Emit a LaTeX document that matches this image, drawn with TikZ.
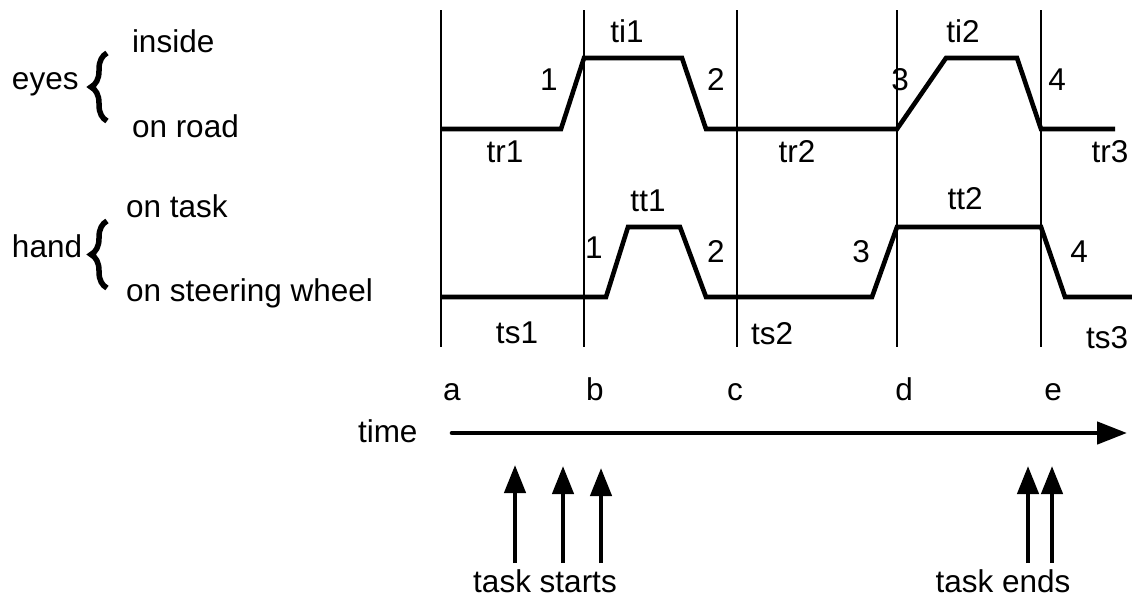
\documentclass[tikz,border=0pt]{standalone}
\usepackage{fontspec}
\setmainfont{Liberation Sans}
\usetikzlibrary{arrows.meta,decorations.pathreplacing}
\begin{document}
\begin{tikzpicture}[x=1pt,y=-1pt,
  every node/.style={inner sep=0pt,outer sep=0pt,font=\fontsize{31.5}{36}\selectfont},
  lbl/.style={anchor=base},
  side/.style={anchor=base west},
  grid/.style={line width=2.2pt},
  signal/.style={line width=4.6pt,line join=miter},
  curly/.style={line width=5.5pt,decorate,decoration={brace,amplitude=16pt,aspect=0.5}},
  cue/.style={line width=4.4pt,-{Triangle[length=28pt,width=21pt]}},
  axis/.style={line width=4.6pt,line cap=round,-{Triangle[length=30pt,width=22pt]}}]
\useasboundingbox (0,0) rectangle (1132,597);

% phase boundaries
\foreach \n/\x in {a/441,b/584,c/737,d/897,e/1041}{
  \coordinate (\n top) at (\x,10);
  \coordinate (\n bot) at (\x,347);
  \draw[grid] (\n top) -- (\n bot);
}

% row captions
\node[side] (eyes) at (12,89) {eyes};
\node[side] (inside) at (132,52) {inside};
\node[side] (onroad) at (132,137) {on road};
\node[side] (hand) at (12,257) {hand};
\node[side] (ontask) at (126,217) {on task};
\node[side] (onwheel) at (126,301) {on steering wheel};
\coordinate (eb1) at (107,121);
\coordinate (eb2) at (107,53);
\coordinate (hb1) at (107,288);
\coordinate (hb2) at (107,221);
\draw[curly] (eb1) -- (eb2);
\draw[curly] (hb1) -- (hb2);

% eye state trace
\draw[signal] (441,129) -- (561,129) -- (584,58) -- (682,58) -- (706,129)
  -- (897,129) -- (946,58) -- (1017,58) -- (1041,129) -- (1115,129);

% hand state trace
\draw[signal] (441,297) -- (606,297) -- (628,227) -- (680,227) -- (706,297)
  -- (872,297) -- (897,227) -- (1041,227) -- (1065,297) -- (1132,297);

% segment labels, eyes
\node[lbl] (ti1) at (627,42) {ti1};
\node[lbl] (ti2) at (963,42) {ti2};
\node[lbl] (e1) at (549,90) {1};
\node[lbl] (e2) at (716,90) {2};
\node[lbl] (e3) at (900,90) {3};
\node[lbl] (e4) at (1057,90) {4};
\node[lbl] (tr1) at (505,162) {tr1};
\node[lbl] (tr2) at (797,162) {tr2};
\node[lbl] (tr3) at (1110,162) {tr3};

% segment labels, hand
\node[lbl] (tt1) at (648,211) {tt1};
\node[lbl] (tt2) at (965,209) {tt2};
\node[lbl] (h1) at (594,258) {1};
\node[lbl] (h2) at (716,262) {2};
\node[lbl] (h3) at (861,262) {3};
\node[lbl] (h4) at (1079,262) {4};
\node[lbl] (ts1) at (517,343) {ts1};
\node[lbl] (ts2) at (772,344) {ts2};
\node[lbl] (ts3) at (1107,348) {ts3};

% time axis
\node[lbl] (la) at (452,400) {a};
\node[lbl] (lb) at (595,400) {b};
\node[lbl] (lc) at (735,400) {c};
\node[lbl] (ld) at (904,400) {d};
\node[lbl] (le) at (1053,400) {e};
\node[side] (time) at (358,442) {time};
\coordinate (t0) at (452,433);
\coordinate (t1) at (1127,433);
\draw[axis] (t0) -- (t1);

% task start / end markers
\foreach \n/\x/\y in {s1/515/465,s2/563/466,s3/601/468,f1/1028/466,f2/1052/466}{
  \coordinate (\n b) at (\x,563);
  \coordinate (\n t) at (\x,\y);
  \draw[cue] (\n b) -- (\n t);
}
\node[lbl] (starts) at (545,592) {task starts};
\node[lbl] (ends) at (1003,592) {task ends};
\end{tikzpicture}
\end{document}
